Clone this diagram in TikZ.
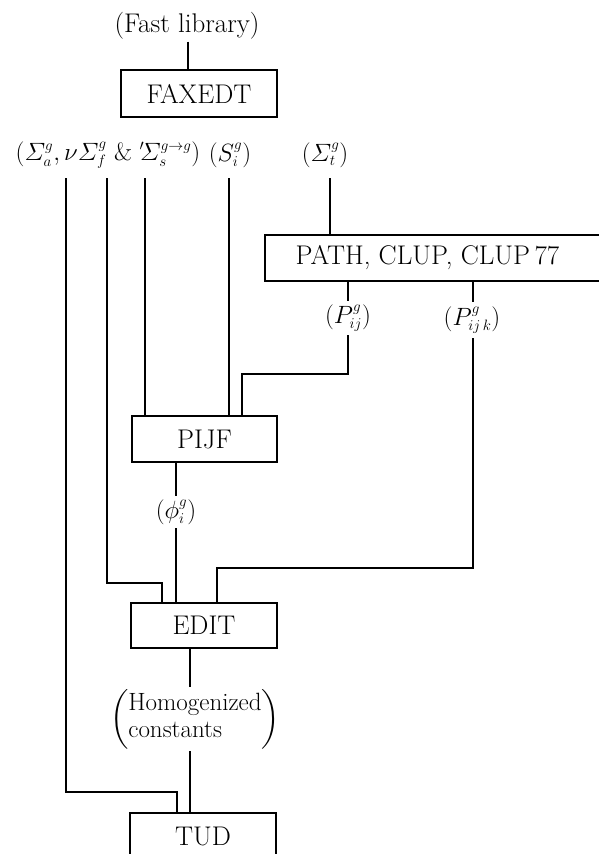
\RequirePackage{fix-cm}
\documentclass[tikz,border=0pt]{standalone}
\usepackage{amsmath}
\DeclareMathSizes{25}{25}{15}{11}
\begin{document}
\begin{tikzpicture}[x=1pt,y=-1pt,
  box/.style={draw,line width=1.6pt,inner sep=0pt,font=\fontsize{27}{30}\selectfont},
  lab/.style={inner sep=0pt,font=\fontsize{25}{27}\selectfont},
  gaplab/.style={lab,fill=white,inner xsep=2pt,inner ysep=4pt},
  conn/.style={line width=1.3pt}]
\useasboundingbox (0,0) rectangle (598,854);
% boxes
\node[box,minimum width=156pt,minimum height=47pt] (faxedt) at (199,93.5) {FAXEDT};
\node[box,minimum width=337pt,minimum height=46pt] (path) at (433.5,258) {\hspace*{-12pt}PATH, CLUP, CLUP\,77};
\node[box,minimum width=145pt,minimum height=46pt] (pijf) at (204.5,439) {PIJF};
\node[box,minimum width=146pt,minimum height=45pt] (edit) at (204,625.5) {EDIT};
\node[box,minimum width=146pt,minimum height=46pt] (tud) at (203,836) {TUD};
% top labels
\node[lab,font=\fontsize{27}{30}\selectfont] (fast) at (187,26) {(Fast library)};
\node[lab] (xs) at (108,155) {$(\varSigma^g_a,\nu\varSigma^g_f$ \& ${}'\!\varSigma^{g\to g}_s)$};
\node[lab] (src) at (230,155) {$(S^g_i)$};
\node[lab] (tot) at (325,155) {$(\varSigma^g_t)$};
\coordinate (rowend) at (0,178);
% connectors
\draw[conn,shorten <=2pt] (188,0 |- fast.south) -- (188,0 |- faxedt.north);
\draw[conn] (66,0 |- rowend) -- (66,792) -| (177,0 |- tud.north);
\draw[conn] (107,0 |- rowend) -- (107,583) -| (162,0 |- edit.north);
\draw[conn] (145,0 |- rowend) -- (145,0 |- pijf.north);
\draw[conn] (229,0 |- rowend) -- (229,0 |- pijf.north);
\draw[conn] (330,0 |- rowend) -- (330,0 |- path.north);
\draw[conn] (348,0 |- path.south) -- (348,374) -| (242,0 |- pijf.north);
\draw[conn] (473,0 |- path.south) -- (473,568) -| (217,0 |- edit.north);
\draw[conn] (176,0 |- pijf.south) -- (176,0 |- edit.north);
\draw[conn] (190,0 |- edit.south) -- (190,0 |- tud.north);
% labels on connectors
\node[gaplab] (pij) at (348,318) {$(P^g_{ij})$};
\node[gaplab] (pijk) at (472,320) {$(P^g_{ij\,k})$};
\node[gaplab] (phi) at (176,512) {$(\phi^g_i)$};
\node[gaplab,inner ysep=2pt] (hom) at (195,719) {$\left(\begin{tabular}{@{}l@{}}Homogenized\\constants\end{tabular}\right)$};
\end{tikzpicture}
\end{document}
